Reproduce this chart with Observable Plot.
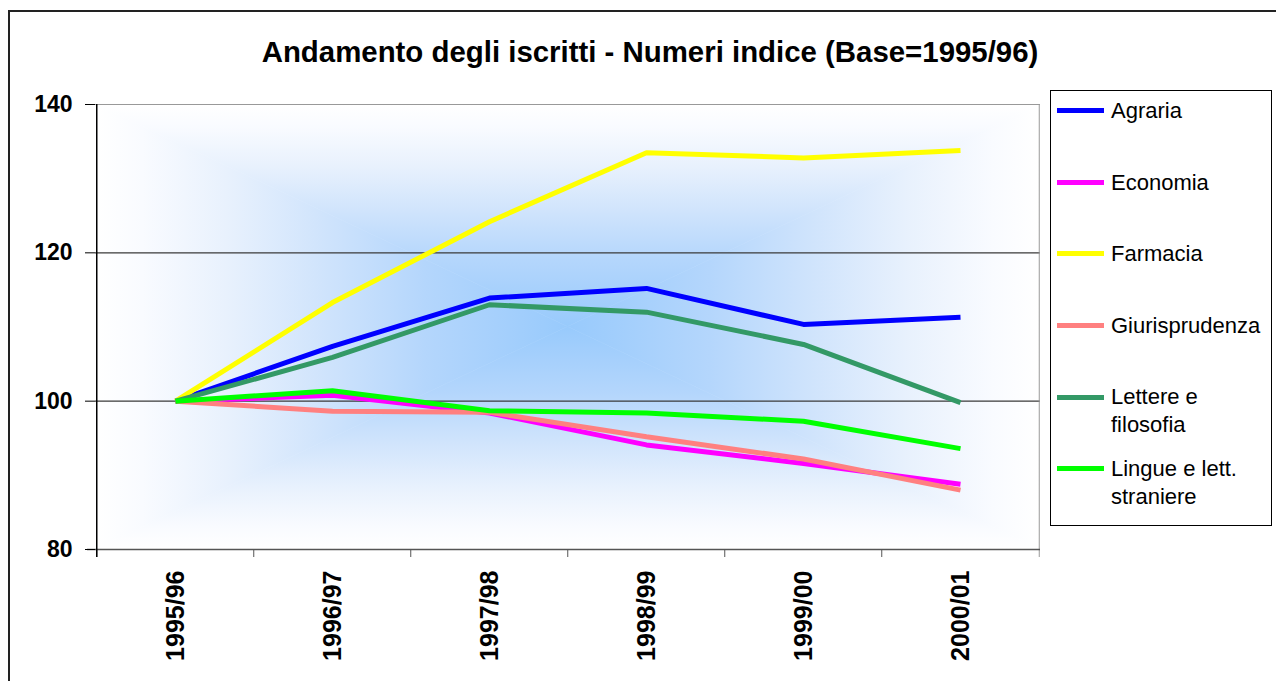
<!DOCTYPE html>
<html>
<head>
<meta charset="utf-8">
<script src="https://cdn.jsdelivr.net/npm/d3@7"></script>
<script src="https://cdn.jsdelivr.net/npm/@observablehq/plot@0.6"></script>
<style>
  body { margin: 0; background: #fff; }
  #wrap { position: relative; width: 1276px; height: 681px; overflow: hidden; font-family: "Liberation Sans", Arial, sans-serif; color: #000; }
  #outer { position: absolute; left: 8px; top: 10px; width: 1320px; height: 720px; border: 2px solid #222; box-sizing: border-box; }
  #title { position: absolute; left: 150px; width: 1000px; top: 37px; text-align: center; font-size: 29.4px; line-height: 29px; font-weight: bold; white-space: nowrap; }
  #chart { position: absolute; left: 0; top: 0; }
  #chart svg text { font-weight: bold; }
  #legend { position: absolute; left: 1050px; top: 90px; width: 222px; height: 436px; border: 1px solid #000; box-sizing: border-box; background: #fff; }
  .sw { position: absolute; left: 6px; width: 47px; height: 5px; }
  .lab { position: absolute; left: 60px; width: 158px; font-size: 22px; line-height: 28px; }
</style>
</head>
<body>
<div id="wrap">
  <div id="outer"></div>
  <div id="title"></div>
  <div id="chart"></div>
  <div id="legend"></div>
</div>
<script>
// ---- data ----
const titleText = "Andamento degli iscritti - Numeri indice (Base=1995/96)";
const categories = ["1995/96", "1996/97", "1997/98", "1998/99", "1999/00", "2000/01"];
const seriesNames = ["Agraria", "Economia", "Farmacia", "Giurisprudenza", "Lettere e filosofia", "Lingue e lett. straniere"];
const seriesColors = ["#0000FF", "#FF00FF", "#FFFF00", "#FF8080", "#339966", "#00FF00"];
const agraria        = [100, 107.4, 113.9, 115.2, 110.35, 111.3];
const economia       = [100, 100.8, 98.4, 94.1, 91.6, 88.8];
const farmacia       = [100, 113.3, 124.2, 133.5, 132.8, 133.8];
const giurisprudenza = [100, 98.65, 98.5, 95.2, 92.2, 88.0];
const lettere        = [100, 105.9, 113.0, 112.0, 107.65, 99.8];
const lingue         = [100, 101.4, 98.7, 98.4, 97.3, 93.6];
const yTicks = [80, 100, 120, 140];
const gridValues = [100, 120];

const seriesValues = [agraria, economia, farmacia, giurisprudenza, lettere, lingue];
const data = seriesNames.flatMap((name, s) =>
  categories.map((c, i) => ({serie: name, year: c, value: seriesValues[s][i]})));

// ---- layout ----
const W = 1045, H = 681, mL = 95, mR = 5, mT = 104, mB = 132;
const step = (W - mL - mR) / categories.length;

document.getElementById("title").textContent = titleText;

const chart = Plot.plot({
  width: W, height: H,
  marginLeft: mL, marginRight: mR, marginTop: mT, marginBottom: mB,
  style: {fontFamily: "'Liberation Sans', Arial, sans-serif", background: "transparent", color: "#000", overflow: "visible"},
  x: {type: "point", domain: categories, padding: 0.5, label: null},
  y: {domain: [80, 140], label: null},
  color: {domain: seriesNames, range: seriesColors},
  marks: [
    Plot.ruleY(gridValues, {stroke: "#3a3a3a", strokeWidth: 1.2}),
    Plot.ruleY([140], {stroke: "#999"}),
    Plot.line(data, {x: "year", y: "value", z: "serie", stroke: "serie", strokeWidth: 5, strokeLinejoin: "miter", strokeLinecap: "butt"}),
    // category separators on x axis
    Plot.ruleX(categories, {dx: -step / 2, y1: 80, y2: 80, insetBottom: -8, stroke: "#555"}),
    // right frame edge
    Plot.ruleX([categories[categories.length - 1]], {dx: step / 2, stroke: "#999", insetBottom: -8}),
    // bottom axis line
    Plot.ruleY([80], {stroke: "#555", strokeWidth: 1.5, insetLeft: -8}),
    // left axis line
    Plot.ruleX([categories[0]], {dx: -step / 2, stroke: "#000", strokeWidth: 1.5, insetBottom: -8}),
    Plot.axisY({ticks: yTicks, tickSize: 10, tickPadding: 13, fontSize: 23, label: null}),
    Plot.axisX({tickRotate: -90, tickSize: 0, tickPadding: 21, fontSize: 25, label: null})
  ]
});

// background "from centre" gradient inside the plot frame, derived from the scales
(function addBackground() {
  const xr = chart.scale("x").range, yr = chart.scale("y").range;
  const x0 = Math.min(...xr), x1 = Math.max(...xr), y0 = Math.min(...yr), y1 = Math.max(...yr);
  const cx = (x0 + x1) / 2, cy = (y0 + y1) / 2;
  const stops = [[0, "#FFFFFF"], [0.1, "#F9FBFF"], [0.28, "#E8F1FD"], [0.48, "#D0E4FC"], [0.7, "#B4D6FC"], [1, "#98CAFC"]];
  const g = d3.create("svg:g").attr("aria-label", "background");
  const defs = g.append("defs");
  const mk = (id, ax, ay, bx, by) => {
    const lg = defs.append("linearGradient").attr("id", id).attr("gradientUnits", "userSpaceOnUse")
      .attr("x1", ax).attr("y1", ay).attr("x2", bx).attr("y2", by);
    stops.forEach(([o, c]) => lg.append("stop").attr("offset", o).attr("stop-color", c));
  };
  mk("bgT", cx, y0, cx, cy); mk("bgB", cx, y1, cx, cy); mk("bgL", x0, cy, cx, cy); mk("bgR", x1, cy, cx, cy);
  const tri = (pts, id) => g.append("polygon").attr("points", pts.map(p => p.join(",")).join(" "))
    .attr("fill", `url(#${id})`).attr("stroke", `url(#${id})`).attr("stroke-width", 0.6);
  tri([[x0, y0], [x1, y0], [cx, cy]], "bgT");
  tri([[x0, y1], [x1, y1], [cx, cy]], "bgB");
  tri([[x0, y0], [x0, y1], [cx, cy]], "bgL");
  tri([[x1, y0], [x1, y1], [cx, cy]], "bgR");
  const firstG = chart.querySelector("g");
  chart.insertBefore(g.node(), firstG);
})();

document.getElementById("chart").appendChild(chart);

// legend
const legend = document.getElementById("legend");
const legTop = 91, firstCenter = 110.7, spacing = 71.6;
seriesNames.forEach((name, i) => {
  const c = firstCenter + i * spacing - legTop;
  const sw = document.createElement("div");
  sw.className = "sw"; sw.style.top = (c - 2.5) + "px"; sw.style.background = seriesColors[i];
  const lab = document.createElement("div");
  lab.className = "lab"; lab.style.top = (c - 13.7) + "px"; lab.textContent = name;
  legend.appendChild(sw); legend.appendChild(lab);
});
</script>
</body>
</html>
